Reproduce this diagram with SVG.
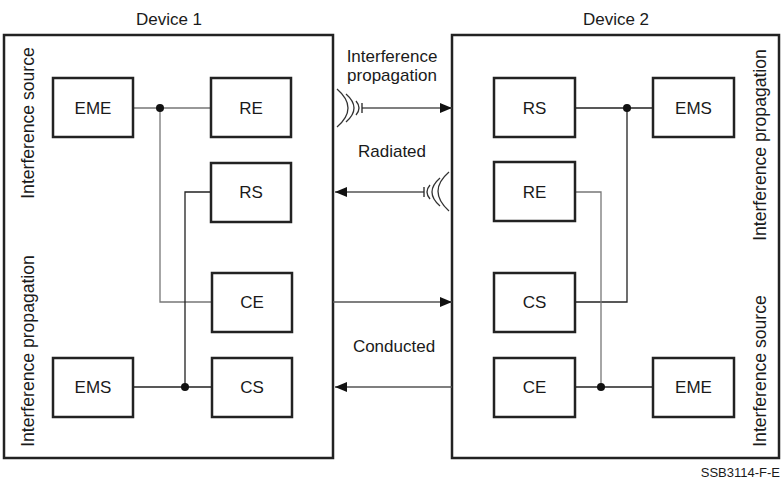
<svg xmlns="http://www.w3.org/2000/svg" width="781" height="481" viewBox="0 0 781 481">
<style>
  text { font-family: "Liberation Sans", Arial, Helvetica, sans-serif; font-size: 17px; fill: #1a1a1a; }
  .c { text-anchor: middle; }
  .rot { font-size: 17.6px; }
  .dev { fill: none; stroke: #222; stroke-width: 2.5; }
  .box { fill: #fff; stroke: #222; stroke-width: 2.5; }
  .lg { fill: none; stroke: #777; stroke-width: 1.3; }
  .dk { fill: none; stroke: #222; stroke-width: 1.3; }
  .ar { fill: none; stroke: #555; stroke-width: 1.3; }
  .arc { fill: none; stroke: #333; stroke-width: 1.3; }
  .dot { fill: #111; }
</style>
<defs>
  <marker id="ah" markerUnits="userSpaceOnUse" markerWidth="12" markerHeight="10" refX="12" refY="5" orient="auto">
    <path d="M0,0 L12,5 L0,10 Z" fill="#111"/>
  </marker>
</defs>
<rect width="781" height="481" fill="#fff"/>

<g id="device1">
  <rect class="dev" x="4" y="35" width="329" height="423"/>
  <text class="c" x="169" y="25">Device 1</text>
  <text class="c rot" transform="translate(34,123) rotate(-90)">Interference source</text>
  <text class="c rot" transform="translate(34,351) rotate(-90)">Interference propagation</text>
</g>
<g id="device2">
  <rect class="dev" x="452" y="35" width="327" height="423"/>
  <text class="c" x="616" y="25">Device 2</text>
  <text class="c rot" transform="translate(766,145) rotate(-90)">Interference propagation</text>
  <text class="c rot" transform="translate(766,371) rotate(-90)">Interference source</text>
</g>

<g id="connectors">
  <!-- Device 1 -->
  <path class="lg" d="M133,108 H211 M160,108 V302 H212"/>
  <path class="dk" d="M211,192 H185 V387 M133,387 H212"/>
  <circle class="dot" cx="160" cy="108" r="4"/>
  <circle class="dot" cx="185" cy="387" r="4"/>
  <!-- Device 2 -->
  <path class="dk" d="M575,108 H653 M627,108 V302 H575"/>
  <path class="lg" d="M575,192 H601 V387"/>
  <path class="dk" d="M575,387 H653"/>
  <circle class="dot" cx="627" cy="108" r="4"/>
  <circle class="dot" cx="601" cy="387" r="4"/>
  <!-- between devices -->
  <path class="ar" d="M362,108 H452" marker-end="url(#ah)"/>
  <path class="dk" d="M362,103 V113"/>
  <path class="arc" d="M356,101 Q362,108 356,115"/>
  <path class="arc" d="M346,94 Q362,108 346,122"/>
  <path class="arc" d="M337,89 Q359,108 337,127"/>
  <path class="ar" d="M424,192 H335" marker-end="url(#ah)"/>
  <path class="dk" d="M424,187 V197"/>
  <path class="arc" d="M430,185 Q424,192 430,199"/>
  <path class="arc" d="M440,178 Q424,192 440,206"/>
  <path class="arc" d="M449,172 Q427,191 449,211"/>
  <path class="ar" d="M333,302 H452" marker-end="url(#ah)"/>
  <path class="ar" d="M452,387 H335" marker-end="url(#ah)"/>
</g>

<g id="labels">
  <text class="c" x="392" y="62">Interference</text>
  <text class="c" x="392" y="81">propagation</text>
  <text class="c" x="392" y="157">Radiated</text>
  <text class="c" x="394" y="352">Conducted</text>
  <text x="780" y="477" style="font-size:13px;text-anchor:end">SSB3114-F-E</text>
</g>

<g id="d1-EME"><rect class="box" x="53" y="78" width="80" height="59"/><text class="c" x="93" y="114">EME</text></g>
<g id="d1-RE"><rect class="box" x="211" y="78" width="80" height="59"/><text class="c" x="251" y="114">RE</text></g>
<g id="d1-RS"><rect class="box" x="211" y="163" width="80" height="59"/><text class="c" x="251" y="198">RS</text></g>
<g id="d1-CE"><rect class="box" x="212" y="273" width="80" height="59"/><text class="c" x="252" y="308">CE</text></g>
<g id="d1-EMS"><rect class="box" x="53" y="358" width="80" height="59"/><text class="c" x="93" y="393">EMS</text></g>
<g id="d1-CS"><rect class="box" x="212" y="358" width="80" height="59"/><text class="c" x="252" y="393">CS</text></g>

<g id="d2-RS"><rect class="box" x="494" y="78" width="81" height="59"/><text class="c" x="534.5" y="114">RS</text></g>
<g id="d2-EMS"><rect class="box" x="653" y="78" width="81" height="59"/><text class="c" x="693.5" y="114">EMS</text></g>
<g id="d2-RE"><rect class="box" x="494" y="162" width="81" height="59"/><text class="c" x="534.5" y="198">RE</text></g>
<g id="d2-CS"><rect class="box" x="494" y="273" width="81" height="59"/><text class="c" x="534.5" y="308">CS</text></g>
<g id="d2-CE"><rect class="box" x="494" y="358" width="81" height="59"/><text class="c" x="534.5" y="393">CE</text></g>
<g id="d2-EME"><rect class="box" x="653" y="358" width="81" height="59"/><text class="c" x="693.5" y="393">EME</text></g>
</svg>
